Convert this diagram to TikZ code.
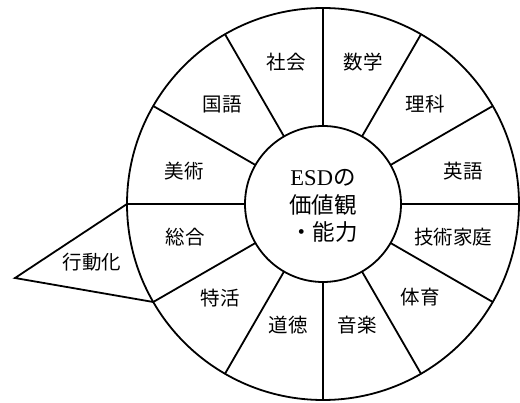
\documentclass[tikz,border=0pt]{standalone}
\usepackage{fontspec}
\setmainfont{Liberation Serif}
\newfontfamily\jp{Noto Sans CJK JP}
\begin{document}
\begin{tikzpicture}[x=1pt,y=-1pt,
  ring/.style={circle,draw,line width=1.8pt,outer sep=0pt,inner sep=0pt},
  spoke/.style={line width=1.8pt},
  lbl/.style={font=\jp\fontsize{19.5}{22}\selectfont,inner sep=0pt},
  core/.style={font=\fontsize{22.5}{27}\selectfont,align=center,inner sep=0pt}]
\useasboundingbox (0,0) rectangle (520,403);
\node[ring,minimum size=392pt] (outer) at (323,204) {};
\node[ring,minimum size=156pt] (inner) at (323,204) {};
\foreach \a in {0,30,...,330}
  \draw[spoke] (inner.\a) -- (outer.\a);
\node[core] (c1) at (323,178) {ESD{\jp の}};
\node[core] (c2) at (323,205) {\jp 価値観};
\node[core] (c3) at (324,232) {\jp ・能力};
\node[lbl] (l1) at (363,62) {数学};
\node[lbl] (l2) at (425,104) {理科};
\node[lbl] (l3) at (463,171) {英語};
\node[lbl] (l4) at (453,237) {技術家庭};
\node[lbl] (l5) at (420,297) {体育};
\node[lbl] (l6) at (357,325) {音楽};
\node[lbl] (l7) at (288,325) {道徳};
\node[lbl] (l8) at (220,298) {特活};
\node[lbl] (l9) at (185,237) {総合};
\node[lbl] (l10) at (184,171) {美術};
\node[lbl] (l11) at (222,104) {国語};
\node[lbl] (l12) at (286,62) {社会};
\coordinate (apex) at (15,278);
\draw[spoke,line join=miter] (outer.180) -- (apex) -- (outer.210);
\node[lbl] (act) at (92,262) {行動化};
\end{tikzpicture}
\end{document}
